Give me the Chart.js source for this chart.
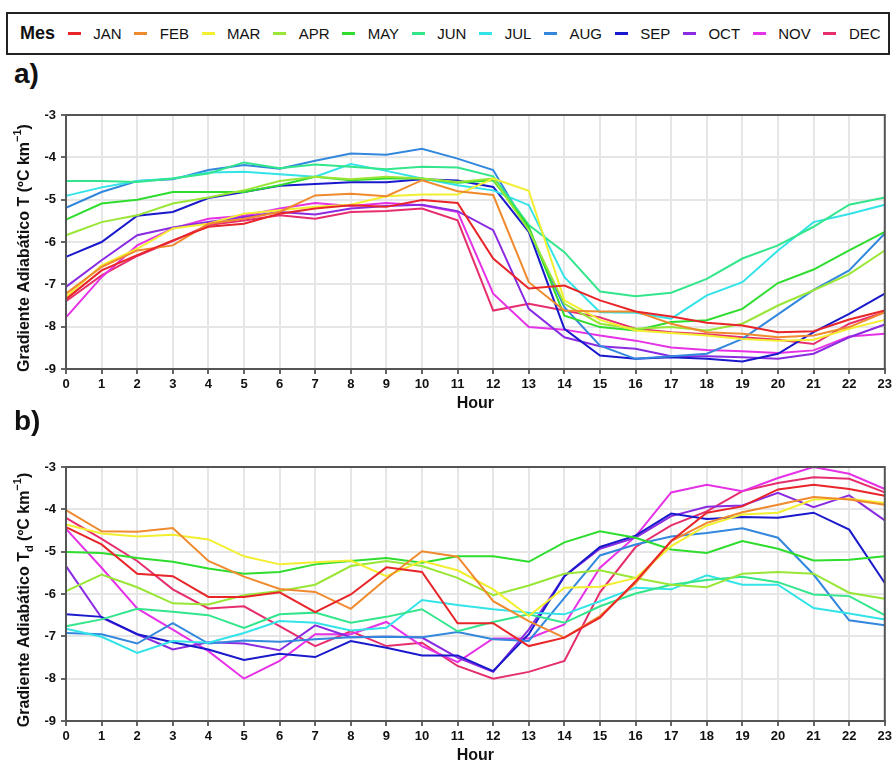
<!DOCTYPE html>
<html lang="es">
<head>
    <meta charset="UTF-8">
    <title>Gradiente Adiabático por Hora</title>
    <script src="https://cdn.jsdelivr.net/npm/chart.js"></script>
    <style>
        body { margin: 0; width: 895px; height: 766px; background: #fff; position: relative; overflow: hidden;
               font-family: "Liberation Sans", Arial, sans-serif; color: #111; }
        #legend { position: absolute; left: 6px; top: 12px; width: 880px; height: 39px;
                  border: 2px solid #222; display: flex; align-items: center; }
        #legend .title { font-weight: bold; font-size: 18px; margin-left: 12px; }
        #legend .item { display: flex; align-items: center; margin-left: 12.6px; font-size: 15px; }
        #legend .swatch { width: 13px; height: 3px; margin-right: 12.6px; }
        .panel-label { position: absolute; left: 14px; font-weight: bold; font-size: 28px; line-height: 28px; }
        .chart-box { position: absolute; left: 0; width: 895px; height: 355px; }
    </style>
</head>
<body>
    <div id="legend"><span class="title">Mes</span></div>
    <div class="panel-label" style="top:60px">a)</div>
    <div class="chart-box" style="top:58px"><canvas id="chartT" width="895" height="355"></canvas></div>
    <div class="panel-label" style="top:407px">b)</div>
    <div class="chart-box" style="top:410px"><canvas id="chartTd" width="895" height="355"></canvas></div>

<script>
// Horas del día y meses
const hours = [0,1,2,3,4,5,6,7,8,9,10,11,12,13,14,15,16,17,18,19,20,21,22,23];
const months = ['JAN','FEB','MAR','APR','MAY','JUN','JUL','AUG','SEP','OCT','NOV','DEC'];
const monthColors = ['#e8262a','#f08a2e','#f2ee30','#99e636','#2edd2e','#33e68c',
                     '#33e3e8','#3388dd','#1a1acc','#8a2be2','#e632e6','#e62e6e'];
const yMin = -9, yMax = -3;

// a) Gradiente adiabático de T (ºC/km)
const tJAN = [-7.35,-6.67,-6.31,-5.96,-5.64,-5.57,-5.33,-5.21,-5.13,-5.17,-5.01,-5.08,-6.39,-7.10,-7.03,-7.38,-7.64,-7.76,-7.91,-7.97,-8.13,-8.11,-7.83,-7.62];
const tFEB = [-7.22,-6.59,-6.20,-6.08,-5.57,-5.45,-5.29,-4.90,-4.86,-4.92,-4.54,-4.80,-4.89,-6.95,-7.62,-7.64,-7.64,-7.93,-8.13,-8.17,-8.25,-8.21,-8.01,-7.66];
const tMAR = [-7.30,-6.55,-6.16,-5.68,-5.57,-5.33,-5.25,-5.17,-5.12,-4.92,-4.88,-4.88,-4.50,-4.79,-7.38,-7.84,-8.09,-8.15,-8.21,-8.29,-8.33,-8.31,-8.05,-7.84];
const tAPR = [-5.84,-5.53,-5.37,-5.09,-4.95,-4.78,-4.56,-4.46,-4.52,-4.46,-4.50,-4.58,-4.50,-5.72,-7.46,-7.93,-8.05,-8.01,-8.09,-7.93,-7.50,-7.14,-6.76,-6.20];
const tMAY = [-5.47,-5.09,-5.00,-4.82,-4.82,-4.82,-4.66,-4.46,-4.54,-4.50,-4.50,-4.60,-4.54,-5.64,-7.74,-8.01,-8.09,-7.89,-7.85,-7.58,-6.97,-6.65,-6.20,-5.76];
const tJUN = [-4.56,-4.56,-4.58,-4.50,-4.38,-4.12,-4.26,-4.17,-4.22,-4.28,-4.22,-4.24,-4.45,-5.60,-6.24,-7.17,-7.28,-7.20,-6.87,-6.39,-6.08,-5.64,-5.12,-4.95];
const tJUL = [-4.91,-4.71,-4.56,-4.50,-4.36,-4.34,-4.40,-4.46,-4.16,-4.32,-4.50,-4.66,-4.78,-5.13,-6.83,-7.66,-7.67,-7.81,-7.26,-6.95,-6.20,-5.53,-5.34,-5.12];
const tAUG = [-5.19,-4.82,-4.56,-4.52,-4.30,-4.18,-4.27,-4.08,-3.91,-3.94,-3.80,-4.03,-4.30,-5.72,-7.54,-8.45,-8.76,-8.70,-8.64,-8.29,-7.71,-7.13,-6.67,-5.80];
const tSEP = [-6.35,-6.00,-5.38,-5.29,-4.96,-4.82,-4.67,-4.63,-4.59,-4.59,-4.52,-4.55,-4.70,-5.76,-8.05,-8.68,-8.76,-8.72,-8.76,-8.82,-8.64,-8.13,-7.70,-7.22];
const tOCT = [-7.06,-6.43,-5.84,-5.66,-5.53,-5.41,-5.29,-5.35,-5.21,-5.15,-5.12,-5.27,-5.72,-7.58,-8.25,-8.46,-8.52,-8.70,-8.70,-8.72,-8.76,-8.64,-8.25,-7.95];
const tNOV = [-7.78,-6.83,-6.08,-5.68,-5.45,-5.38,-5.21,-5.08,-5.15,-5.08,-5.13,-5.29,-7.22,-8.01,-8.07,-8.21,-8.33,-8.49,-8.55,-8.58,-8.62,-8.56,-8.23,-8.17];
const tDEC = [-7.40,-6.79,-6.33,-5.98,-5.60,-5.49,-5.37,-5.45,-5.29,-5.27,-5.21,-5.49,-7.62,-7.46,-7.62,-7.78,-8.05,-8.13,-8.18,-8.25,-8.31,-8.41,-7.93,-7.66];

// b) Gradiente adiabático de Td (ºC/km)
const tdJAN = [-4.42,-4.83,-5.52,-5.58,-6.07,-6.07,-5.96,-6.43,-6.01,-5.37,-5.48,-6.69,-6.69,-7.23,-7.03,-6.56,-5.70,-4.75,-4.08,-3.93,-3.53,-3.42,-3.52,-3.68];
const tdFEB = [-4.02,-4.52,-4.53,-4.44,-5.22,-5.59,-5.88,-5.95,-6.35,-5.64,-4.99,-5.12,-6.17,-6.64,-7.03,-6.52,-5.74,-4.75,-4.32,-4.07,-3.89,-3.71,-3.77,-3.89];
const tdMAR = [-4.36,-4.57,-4.64,-4.60,-4.71,-5.11,-5.30,-5.25,-5.21,-5.58,-5.22,-5.44,-5.89,-6.52,-5.85,-5.83,-5.62,-4.87,-4.38,-4.12,-4.08,-3.77,-3.75,-3.85];
const tdAPR = [-5.93,-5.54,-5.84,-6.22,-6.25,-6.03,-5.93,-5.78,-5.34,-5.22,-5.34,-5.62,-6.03,-5.80,-5.52,-5.44,-5.62,-5.78,-5.84,-5.52,-5.48,-5.52,-5.97,-6.11];
const tdMAY = [-5.01,-5.03,-5.15,-5.24,-5.40,-5.52,-5.48,-5.30,-5.22,-5.15,-5.26,-5.11,-5.11,-5.24,-4.78,-4.52,-4.67,-4.95,-5.03,-4.75,-4.93,-5.21,-5.19,-5.11];
const tdJUN = [-6.76,-6.60,-6.35,-6.42,-6.50,-6.80,-6.48,-6.44,-6.68,-6.54,-6.36,-6.88,-6.66,-6.48,-6.68,-6.29,-5.99,-5.78,-5.67,-5.59,-5.72,-6.01,-6.05,-6.50];
const tdJUL = [-6.82,-7.01,-7.39,-7.11,-7.15,-6.92,-6.64,-6.68,-6.86,-6.80,-6.14,-6.26,-6.36,-6.44,-6.48,-6.17,-5.85,-5.89,-5.56,-5.78,-5.78,-6.33,-6.46,-6.60];
const tdAUG = [-6.92,-6.95,-7.17,-6.69,-7.17,-7.10,-7.13,-7.07,-7.02,-7.01,-7.02,-6.90,-7.07,-7.11,-6.09,-5.09,-4.83,-4.64,-4.56,-4.45,-4.67,-5.54,-6.62,-6.74];
const tdSEP = [-6.48,-6.54,-6.95,-7.14,-7.31,-7.56,-7.41,-7.49,-7.11,-7.27,-7.45,-7.45,-7.82,-6.95,-5.58,-4.89,-4.62,-4.10,-4.23,-4.18,-4.20,-4.08,-4.48,-5.74];
const tdOCT = [-5.34,-6.56,-6.95,-7.31,-7.14,-7.17,-7.33,-6.74,-7.02,-7.01,-7.03,-7.50,-7.84,-6.84,-5.58,-4.93,-4.67,-4.16,-3.94,-3.91,-3.61,-3.95,-3.67,-4.26];
const tdNOV = [-4.46,-5.38,-6.34,-6.84,-7.35,-8.00,-7.58,-6.95,-6.95,-6.66,-7.23,-7.61,-7.05,-7.05,-6.72,-5.38,-4.64,-3.60,-3.42,-3.57,-3.26,-3.00,-3.16,-3.52];
const tdDEC = [-4.20,-4.70,-5.22,-5.89,-6.34,-6.29,-6.76,-7.23,-6.88,-7.23,-7.15,-7.70,-8.00,-7.84,-7.58,-5.96,-4.89,-4.38,-4.05,-3.57,-3.38,-3.24,-3.28,-3.60];

const seriesT  = [tJAN, tFEB, tMAR, tAPR, tMAY, tJUN, tJUL, tAUG, tSEP, tOCT, tNOV, tDEC];
const seriesTd = [tdJAN, tdFEB, tdMAR, tdAPR, tdMAY, tdJUN, tdJUL, tdAUG, tdSEP, tdOCT, tdNOV, tdDEC];

const FONT = '"Liberation Sans", Arial, sans-serif';

// Leyenda común arriba
const legend = document.getElementById('legend');
months.forEach((m, i) => {
    const item = document.createElement('span');
    item.className = 'item';
    item.innerHTML = '<span class="swatch" style="background:' + monthColors[i] + '"></span>' + m;
    legend.appendChild(item);
});

// Marco completo alrededor del área de dibujo
const frame = {
    id: 'frame',
    afterDatasetsDraw(chart) {
        const a = chart.chartArea, ctx = chart.ctx;
        ctx.save();
        ctx.strokeStyle = '#555';
        ctx.lineWidth = 2;
        ctx.strokeRect(a.left, a.top, a.right - a.left, a.bottom - a.top);
        ctx.restore();
    }
};

// Título del eje Y con subíndice / superíndice
function yTitle(parts) {
    return {
        id: 'yTitle',
        afterDraw(chart) {
            const ctx = chart.ctx, a = chart.chartArea;
            const big = 'bold 16px ' + FONT, small = 'bold 11px ' + FONT;
            ctx.save();
            ctx.translate(25, (a.top + a.bottom) / 2 + 6);
            ctx.rotate(-Math.PI / 2);
            ctx.fillStyle = '#111';
            ctx.textBaseline = 'middle';
            let total = 0;
            parts.forEach(p => {
                ctx.font = p.sub || p.sup ? small : big;
                p.w = ctx.measureText(p.text).width;
                total += p.w;
            });
            let x = -total / 2;
            parts.forEach(p => {
                ctx.font = p.sub || p.sup ? small : big;
                ctx.fillText(p.text, x, p.sup ? -7 : (p.sub ? 5 : 0));
                x += p.w;
            });
            ctx.restore();
        }
    };
}

function makeChart(id, series, titleParts) {
    return new Chart(document.getElementById(id), {
        type: 'line',
        data: {
            labels: hours,
            datasets: series.map((d, i) => ({
                label: months[i],
                data: d,
                borderColor: monthColors[i],
                backgroundColor: monthColors[i],
                borderWidth: 2,
                pointRadius: 0,
                tension: 0
            }))
        },
        options: {
            responsive: false,
            animation: false,
            layout: { padding: { top: 57, left: 0, right: 10, bottom: 0 } },
            plugins: { legend: { display: false }, tooltip: { enabled: false } },
            scales: {
                x: {
                    afterFit(s) { s.height = 44; },
                    grid: { color: '#e6e6e6', lineWidth: 2, tickColor: '#333', tickLength: 5, tickWidth: 1.5 },
                    border: { color: '#555', width: 2 },
                    ticks: { color: '#111', padding: 3, maxRotation: 0, autoSkip: false,
                             font: { family: FONT, size: 13, weight: 'bold' } },
                    title: { display: true, text: 'Hour', color: '#111', padding: 0,
                             font: { family: FONT, size: 16, weight: 'bold' } }
                },
                y: {
                    min: yMin, max: yMax,
                    afterFit(s) { s.width = 66; },
                    grid: { color: '#e6e6e6', lineWidth: 2, tickColor: '#333', tickLength: 5, tickWidth: 1.5 },
                    border: { color: '#555', width: 2 },
                    ticks: { stepSize: 1, color: '#111', padding: 5,
                             font: { family: FONT, size: 13, weight: 'bold' } }
                }
            }
        },
        plugins: [frame, yTitle(titleParts)]
    });
}

makeChart('chartT', seriesT, [
    { text: 'Gradiente Adiabático T (ºC km' }, { text: '\u22121', sup: true }, { text: ')' }
]);
makeChart('chartTd', seriesTd, [
    { text: 'Gradiente Adiabático T' }, { text: 'd', sub: true },
    { text: ' (ºC km' }, { text: '\u22121', sup: true }, { text: ')' }
]);
</script>
</body>
</html>
